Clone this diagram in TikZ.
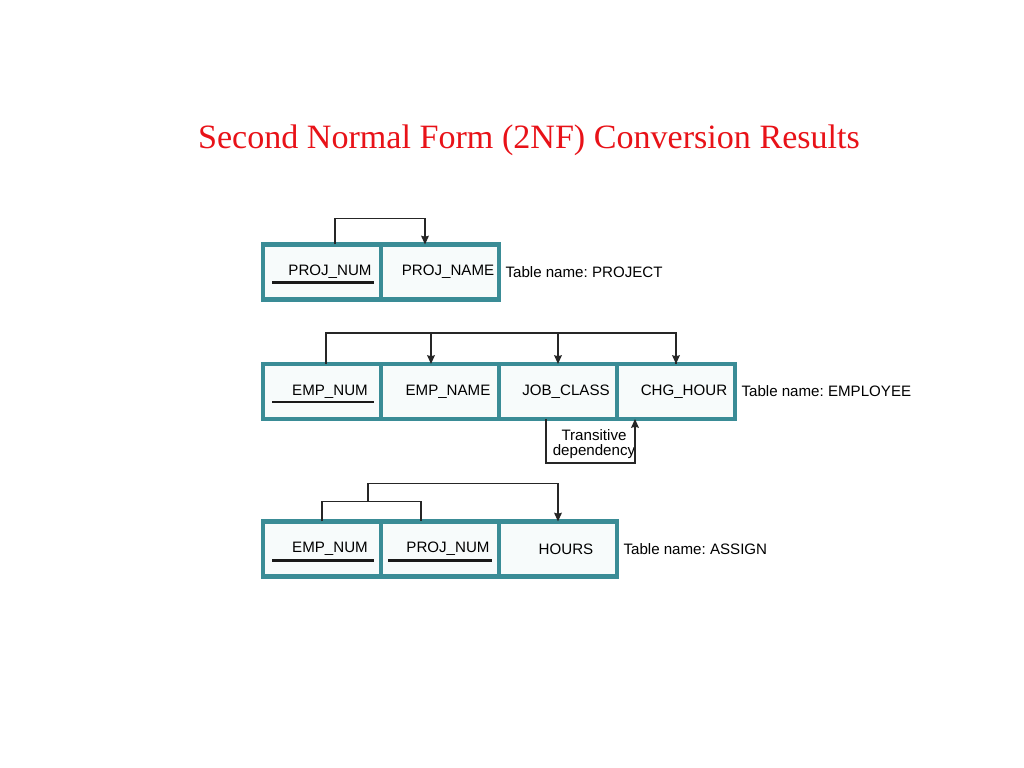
\documentclass[tikz,border=0pt]{standalone}
\usepackage{fontspec}
\setmainfont{Liberation Serif}
\setsansfont{Liberation Sans}
\usepackage{xcolor}
\usepackage{tikz}
\usetikzlibrary{arrows.meta,positioning}
\frenchspacing

\definecolor{tealline}{RGB}{58,140,150}
\definecolor{cellfill}{RGB}{247,251,251}
\definecolor{titlered}{RGB}{232,18,24}

\begin{document}
\begin{tikzpicture}[>={Stealth[length=5pt,width=4.4pt,inset=0.6pt]},node distance=0pt,semithick]
			\tikzstyle{cell}=[draw=tealline,fill=cellfill,line width=2.3pt,outer sep=0pt,inner xsep=0pt,
				minimum width=2.36cm,minimum height=1.1cm,font=\sffamily\fontsize{8.6}{10}\selectfont,
				execute at begin node=\hspace*{0.32cm}]
			\tikzstyle{tname}=[inner sep=0pt,font=\sffamily\fontsize{8.6}{10}\selectfont]
			\tikzstyle{dep}=[line width=0.8pt,draw=black!85]
			\tikzstyle{keyline}=[line width=1.2pt,draw=black!90]
			
			\useasboundingbox (0,0) rectangle (20.48,15.36);
			
			\node[font=\fontsize{19.4}{23}\selectfont,text=titlered,anchor=base] (title) at (10.58,12.38)
				{Second Normal Form (2NF) Conversion Results};
			
			% PROJECT
			\node[cell]    (P1) at (6.44,9.92)    {PROJ\_NUM};
			\node[cell]    (P2)[right=of P1]      {PROJ\_NAME};
			\node[tname]   (Pn)[right=0.12cm of P2] {Table name: PROJECT};
			
			% EMPLOYEE
			\node[cell]    (E1) at (6.44,7.53)    {EMP\_NUM};
			\node[cell]    (E2)[right=of E1]      {EMP\_NAME};
			\node[cell]    (E3)[right=of E2]      {JOB\_CLASS};
			\node[cell]    (E4)[right=of E3]      {CHG\_HOUR};
			\node[tname]   (En)[right=0.12cm of E4] {Table name: EMPLOYEE};
			\node[tname,align=center] (Tr) at (11.88,6.47) {Transitive\\[-1.5pt]dependency};
			
			% ASSIGN
			\node[cell]    (A1) at (6.44,4.38)    {EMP\_NUM};
			\node[cell]    (A2)[right=of A1]      {PROJ\_NUM};
			\node[cell]    (A3)[right=of A2]      {HOURS};
			\node[tname]   (An)[right=0.12cm of A3] {Table name: ASSIGN};
			
			% keys
			\draw[keyline] ([xshift=0.18cm,yshift=0.34cm]P1.south west) -- ([xshift=-0.14cm,yshift=0.34cm]P1.south east);
			\draw[keyline] ([xshift=0.18cm,yshift=0.34cm]E1.south west) -- ([xshift=-0.14cm,yshift=0.34cm]E1.south east);
			\draw[keyline] ([xshift=0.18cm,yshift=0.32cm]A1.south west) -- ([xshift=-0.14cm,yshift=0.32cm]A1.south east);
			\draw[keyline] ([xshift=0.14cm,yshift=0.32cm]A2.south west) -- ([xshift=-0.14cm,yshift=0.32cm]A2.south east);
			
			% dependencies
			\draw[dep,->] ([xshift=0.26cm]P1.north) -- ++(0,0.52cm) -| ([xshift=-0.3cm]P2.north);
			
			\draw[dep] ([xshift=0.08cm]E1.north) -- ++(0,0.62cm) coordinate (Etop) -| (E4.north);
			\draw[dep,->] (Etop -| E4.north) -- (E4.north);
			\draw[dep,->] (Etop -| E3.north) -- (E3.north);
			\draw[dep,->] ([xshift=-0.18cm]Etop -| E2.north) -- ([xshift=-0.18cm]E2.north);
			\draw[dep,->] ([xshift=-0.24cm]E3.south) -- ++(0,-0.88cm) -| ([xshift=-0.82cm]E4.south);
			
			\draw[dep] (A1.north) -- ++(0,0.4cm) coordinate (Abr) -| ([xshift=-0.38cm]A2.north);
			\draw[dep,->] ([xshift=0.92cm]Abr) -- ++(0,0.36cm) -| (A3.north);
\end{tikzpicture}
\end{document}
